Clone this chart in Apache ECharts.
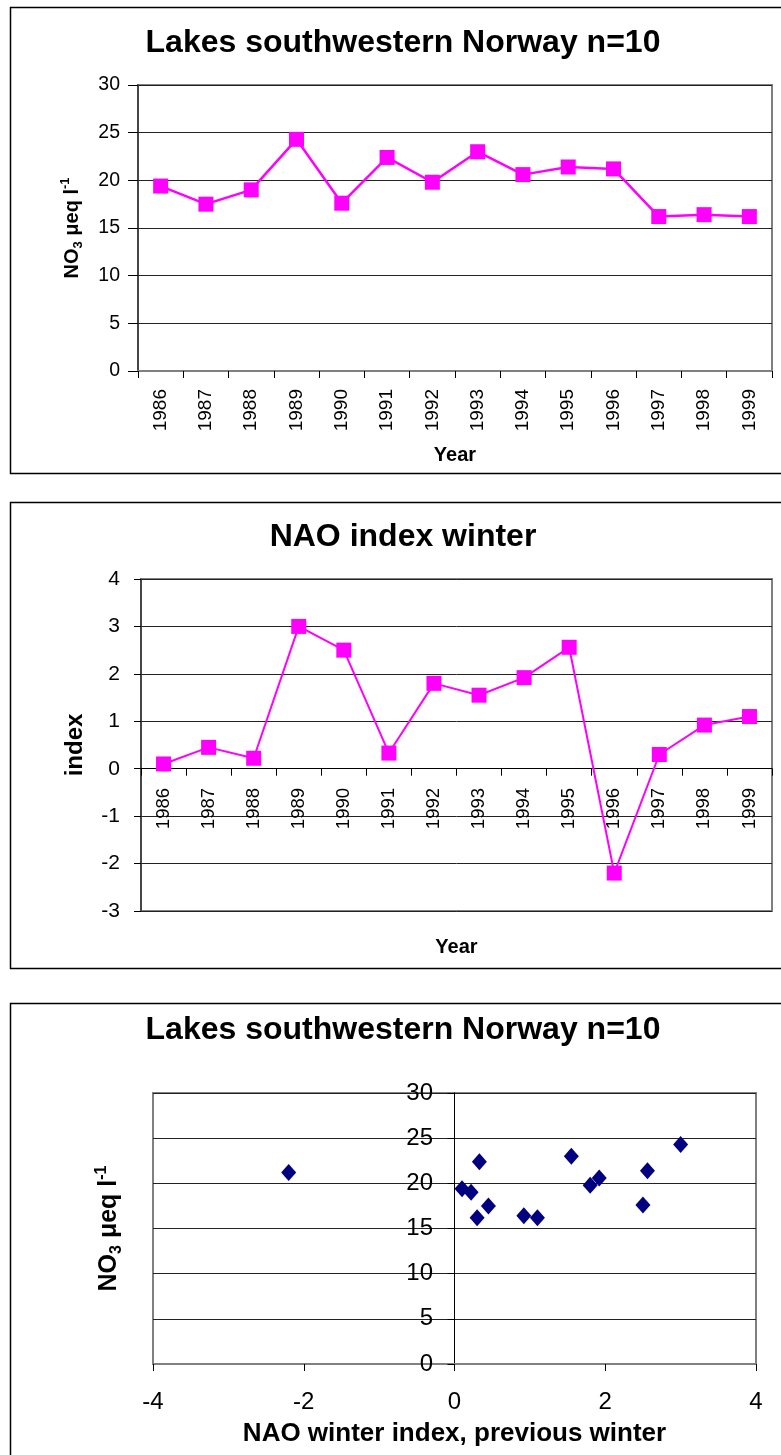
<!DOCTYPE html>
<html>
<head>
<meta charset="utf-8">
<title>Lakes southwestern Norway</title>
<script src="https://cdn.jsdelivr.net/npm/echarts@6/dist/echarts.min.js"></script>
<style>
  html, body { margin: 0; padding: 0; background: #fff; }
  #chart { width: 781px; height: 1455px; }
</style>
</head>
<body>
<div id="chart"></div>
<script>
// data
const years = ['1986', '1987', '1988', '1989', '1990', '1991', '1992', '1993', '1994', '1995', '1996', '1997', '1998', '1999']
const no3 = [19.4, 17.5, 19.0, 24.3, 17.6, 22.4, 19.8, 23.0, 20.6, 21.4, 21.2, 16.2, 16.4, 16.2]
const nao = [0.1, 0.45, 0.22, 3.0, 2.5, 0.33, 1.8, 1.55, 1.92, 2.56, -2.2, 0.3, 0.92, 1.1]
const no3Ticks = [0, 30, 5]
const naoTicks = [-3, 4, 1]
const naoScatterTicks = [-4, 4, 2]

// scatter: NO3 against the NAO index of the same row
const scatterData = nao.map((v, i) => [v, no3[i]])

const FONT = '"Liberation Sans", Arial, sans-serif'
const MAGENTA = '#ff00ff'
const NAVY = '#000080'

const chart = echarts.init(document.getElementById('chart'))

const no3Name = {
  name: '{b|NO}{s|3}{b| μeq l}{p|-1}',
  nameLocation: 'middle'
}
const nameRich = size => ({
  b: { fontSize: size, fontWeight: 'bold', fontFamily: FONT, color: '#000', lineHeight: size + 6, verticalAlign: 'middle' },
  s: { fontSize: Math.round(size * 0.65), fontWeight: 'bold', fontFamily: FONT, color: '#000', lineHeight: size + 6, verticalAlign: 'bottom', padding: [8, 0, 0, 0] },
  p: { fontSize: Math.round(size * 0.65), fontWeight: 'bold', fontFamily: FONT, color: '#000', lineHeight: size + 6, verticalAlign: 'top', padding: [0, 0, 8, 0] }
})

const valueAxisBase = {
  type: 'value',
  axisLine: { show: true, onZero: false, lineStyle: { color: '#333', width: 1.5 } },
  axisTick: { show: true, inside: false, length: 8, lineStyle: { color: '#000' } },
  axisLabel: { color: '#000', fontSize: 19.5, fontFamily: FONT, margin: 18 },
  splitLine: { show: true, lineStyle: { color: '#222', width: 1 } }
}

const catAxisBase = {
  type: 'category',
  data: years,
  boundaryGap: true,
  axisTick: { show: true, length: 7, lineStyle: { color: '#000' } },
  nameLocation: 'middle',
  nameTextStyle: { fontSize: 20, fontWeight: 'bold', fontFamily: FONT, color: '#000' },
  splitLine: { show: false }
}

const titleText = (text, y) => ({
  type: 'text',
  x: 403,
  y: y,
  silent: true,
  style: {
    text: text,
    fontSize: 32,
    fontWeight: 'bold',
    fontFamily: FONT,
    fill: '#000',
    align: 'center',
    verticalAlign: 'middle'
  }
})

const box = (y, h) => ({
  type: 'rect',
  silent: true,
  shape: { x: 10.5, y: y + 0.5, width: 800, height: h },
  style: { fill: 'none', stroke: '#000', lineWidth: 1.5 }
})

const gridBase = { show: true, borderColor: '#808080', borderWidth: 2, backgroundColor: '#fff', outerBoundsMode: 'none', containLabel: false }

const option = {
  backgroundColor: '#fff',
  animation: false,
  graphic: [
    box(7, 466),
    box(502, 466),
    box(1003, 500),
    titleText('Lakes southwestern Norway n=10', 43),
    titleText('NAO index winter', 537),
    titleText('Lakes southwestern Norway n=10', 1030)
  ],
  grid: [
    Object.assign({ left: 138, top: 85, width: 634, height: 286 }, gridBase),
    Object.assign({ left: 141, top: 579, width: 631, height: 332 }, gridBase),
    Object.assign({ left: 153, top: 1093, width: 603, height: 271 }, gridBase)
  ],
  xAxis: [
    Object.assign({}, catAxisBase, {
      gridIndex: 0,
      name: 'Year',
      nameGap: 74,
      axisLine: { show: true, lineStyle: { color: '#808080', width: 2 } },
      axisLabel: { color: '#000', fontSize: 19, fontFamily: FONT, rotate: 90, margin: 18, interval: 0 }
    }),
    Object.assign({}, catAxisBase, {
      gridIndex: 1,
      name: 'Year',
      nameGap: 26,
      axisLine: { show: true, onZero: true, lineStyle: { color: '#000', width: 1 } },
      // labels sit just under the zero line, as in the original
      axisLabel: { color: '#000', fontSize: 18.5, fontFamily: FONT, rotate: 90, margin: -123, interval: 0 }
    }),
    {
      type: 'value',
      gridIndex: 2,
      min: naoScatterTicks[0],
      max: naoScatterTicks[1],
      interval: naoScatterTicks[2],
      axisLine: { show: true, onZero: false, lineStyle: { color: '#808080', width: 2 } },
      axisTick: { show: true, length: 7, lineStyle: { color: '#000' } },
      axisLabel: { color: '#000', fontSize: 24, fontFamily: FONT, margin: 26 },
      splitLine: { show: false },
      name: 'NAO winter index, previous winter',
      nameLocation: 'middle',
      nameGap: 57,
      nameTextStyle: { fontSize: 26, fontWeight: 'bold', fontFamily: FONT, color: '#000' }
    }
  ],
  yAxis: [
    Object.assign({}, valueAxisBase, no3Name, {
      gridIndex: 0,
      min: no3Ticks[0], max: no3Ticks[1], interval: no3Ticks[2],
      axisTick: { show: true, length: 10, lineStyle: { color: '#000' } },
      nameGap: 53,
      nameTextStyle: { rich: nameRich(20) }
    }),
    Object.assign({}, valueAxisBase, {
      gridIndex: 1,
      min: naoTicks[0], max: naoTicks[1], interval: naoTicks[2],
      axisTick: { show: true, length: 7, lineStyle: { color: '#000' } },
      axisLabel: { color: '#000', fontSize: 21, fontFamily: FONT, margin: 21 },
      name: 'index',
      nameLocation: 'middle',
      nameGap: 54,
      nameTextStyle: { fontSize: 24, fontWeight: 'bold', fontFamily: FONT, color: '#000' }
    }),
    Object.assign({}, valueAxisBase, no3Name, {
      gridIndex: 2,
      min: no3Ticks[0], max: no3Ticks[1], interval: no3Ticks[2],
      axisLine: { show: true, onZero: true, lineStyle: { color: '#000', width: 1 } },
      axisTick: { show: true, length: 7, lineStyle: { color: '#000' } },
      // labels follow the axis at x = 0
      axisLabel: { color: '#000', fontSize: 24, fontFamily: FONT, margin: -280 },
      nameGap: 28,
      nameTextStyle: { rich: nameRich(25) }
    })
  ],
  series: [
    {
      type: 'line',
      xAxisIndex: 0,
      yAxisIndex: 0,
      data: no3,
      symbol: 'rect',
      symbolSize: 15,
      lineStyle: { color: MAGENTA, width: 2.5 },
      itemStyle: { color: MAGENTA },
      z: 5
    },
    {
      type: 'line',
      xAxisIndex: 1,
      yAxisIndex: 1,
      data: nao,
      symbol: 'rect',
      symbolSize: 15,
      lineStyle: { color: MAGENTA, width: 2 },
      itemStyle: { color: MAGENTA },
      z: 5
    },
    {
      type: 'scatter',
      xAxisIndex: 2,
      yAxisIndex: 2,
      data: scatterData,
      symbol: 'diamond',
      symbolSize: [15, 17],
      itemStyle: { color: NAVY, opacity: 1 },
      z: 5
    }
  ]
}

chart.setOption(option)
</script>
</body>
</html>
